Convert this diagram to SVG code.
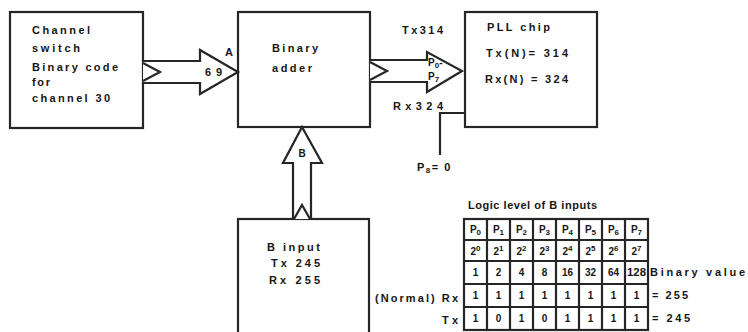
<svg xmlns="http://www.w3.org/2000/svg" width="748" height="332" viewBox="0 0 748 332">
<style>
.t{font-family:"Liberation Sans",Arial,sans-serif;font-weight:bold;font-size:11px;fill:#161616}
.s{font-size:10px}
.c{text-anchor:middle}
.e{text-anchor:end}
.box{fill:#fff;stroke:#262626;stroke-width:2.2}
.ln{fill:none;stroke:#262626;stroke-width:2.2}
.ar{fill:#fff;stroke:#262626;stroke-width:2.2;stroke-linejoin:miter}
.sub{font-size:8px}
</style>
<rect width="748" height="332" fill="#ffffff"/>

<g id="channel-switch">
<rect class="box" x="10" y="12" width="133" height="116"/>
<text class="t" x="32" y="34" textLength="58" lengthAdjust="spacing">Channel</text>
<text class="t" x="32" y="52" textLength="48" lengthAdjust="spacing">switch</text>
<text class="t" x="32" y="71" textLength="86" lengthAdjust="spacing">Binary code</text>
<text class="t" x="32" y="86" textLength="18" lengthAdjust="spacing">for</text>
<text class="t" x="32" y="102" textLength="78" lengthAdjust="spacing">channel 30</text>
</g>

<g id="binary-adder">
<rect class="box" x="238" y="12" width="132" height="115"/>
<text class="t" x="272" y="52" textLength="46" lengthAdjust="spacing">Binary</text>
<text class="t" x="272" y="72" textLength="40" lengthAdjust="spacing">adder</text>
</g>

<g id="pll-chip">
<rect class="box" x="465" y="12" width="132" height="115"/>
<text class="t" x="487" y="31" textLength="63" lengthAdjust="spacing">PLL chip</text>
<text class="t" x="486" y="57" textLength="82" lengthAdjust="spacing">Tx(N)= 314</text>
<text class="t" x="485" y="83" textLength="83" lengthAdjust="spacing">Rx(N) = 324</text>
</g>

<g id="b-input">
<rect class="box" x="238" y="219" width="131" height="125"/>
<text class="t" x="267" y="251" textLength="53" lengthAdjust="spacing">B input</text>
<text class="t" x="271" y="267" textLength="49" lengthAdjust="spacing">Tx 245</text>
<text class="t" x="269" y="284" textLength="51" lengthAdjust="spacing">Rx 255</text>
</g>

<g id="connectors">
<path class="ar" d="M143,61 H200 V50 L238,72 L200,94 V83 H143"/>
<polyline class="ln" points="143,63 160,72 143,81"/>
<text class="t" x="225" y="56">A</text>
<text class="t" x="205" y="76" textLength="17" lengthAdjust="spacing">69</text>

<path class="ar" d="M370,60 H427 V52 L462,71 L427,92 V82 H370"/>
<polyline class="ln" points="370,62 387,71 370,80"/>
<text class="t s" x="428" y="66">P<tspan class="sub" dy="2">0</tspan><tspan dy="-2">-</tspan></text>
<text class="t s" x="428" y="80">P<tspan class="sub" dy="2">7</tspan></text>
<text class="t" x="402" y="34" textLength="41" lengthAdjust="spacing">Tx314</text>
<text class="t" x="393" y="110" textLength="50" lengthAdjust="spacing">Rx324</text>

<path class="ar" d="M293,219 V163 H283 L302,127 L322,163 H311 V219"/>
<polyline class="ln" points="294,219 302,205 310,219"/>
<text class="t s c" x="302" y="157">B</text>

<path class="ln" d="M465,113 H440 V155"/>
<text class="t" x="417" y="171" letter-spacing="1.5">P<tspan class="sub" dy="2">8</tspan><tspan dy="-2">= 0</tspan></text>
</g>

<g id="logic-table">
<text class="t" x="468" y="209" textLength="129" lengthAdjust="spacing">Logic level of B inputs</text>
<g class="ln">
<rect x="464" y="219" width="184" height="111"/>
<path d="M464,240 H648 M464,261 H648 M464,284 H648 M464,307 H648"/>
<path d="M487,219 V330 M510,219 V330 M533,219 V330 M556,219 V330 M579,219 V330 M602,219 V330 M625,219 V330"/>
</g>
<g class="t s c">
<text x="475.5" y="233">P<tspan class="sub" dy="2">0</tspan></text>
<text x="498.5" y="233">P<tspan class="sub" dy="2">1</tspan></text>
<text x="521.5" y="233">P<tspan class="sub" dy="2">2</tspan></text>
<text x="544.5" y="233">P<tspan class="sub" dy="2">3</tspan></text>
<text x="567.5" y="233">P<tspan class="sub" dy="2">4</tspan></text>
<text x="590.5" y="233">P<tspan class="sub" dy="2">5</tspan></text>
<text x="613.5" y="233">P<tspan class="sub" dy="2">6</tspan></text>
<text x="636.5" y="233">P<tspan class="sub" dy="2">7</tspan></text>

<text x="475.5" y="255">2<tspan class="sub" dy="-4">0</tspan></text>
<text x="498.5" y="255">2<tspan class="sub" dy="-4">1</tspan></text>
<text x="521.5" y="255">2<tspan class="sub" dy="-4">2</tspan></text>
<text x="544.5" y="255">2<tspan class="sub" dy="-4">3</tspan></text>
<text x="567.5" y="255">2<tspan class="sub" dy="-4">4</tspan></text>
<text x="590.5" y="255">2<tspan class="sub" dy="-4">5</tspan></text>
<text x="613.5" y="255">2<tspan class="sub" dy="-4">6</tspan></text>
<text x="636.5" y="255">2<tspan class="sub" dy="-4">7</tspan></text>

<text x="475.5" y="276">1</text>
<text x="498.5" y="276">2</text>
<text x="521.5" y="276">4</text>
<text x="544.5" y="276">8</text>
<text x="567.5" y="276">16</text>
<text x="590.5" y="276">32</text>
<text x="613.5" y="276">64</text>
<text x="636.5" y="276" textLength="19" lengthAdjust="spacingAndGlyphs">128</text>

<text x="475.5" y="299">1</text>
<text x="498.5" y="299">1</text>
<text x="521.5" y="299">1</text>
<text x="544.5" y="299">1</text>
<text x="567.5" y="299">1</text>
<text x="590.5" y="299">1</text>
<text x="613.5" y="299">1</text>
<text x="636.5" y="299">1</text>

<text x="475.5" y="322">1</text>
<text x="498.5" y="322">0</text>
<text x="521.5" y="322">1</text>
<text x="544.5" y="322">0</text>
<text x="567.5" y="322">1</text>
<text x="590.5" y="322">1</text>
<text x="613.5" y="322">1</text>
<text x="636.5" y="322">1</text>
</g>
<text class="t" x="650" y="276" textLength="95" lengthAdjust="spacing">Binary value</text>
<text class="t" x="652" y="299" textLength="36" lengthAdjust="spacing">= 255</text>
<text class="t" x="652" y="322" textLength="38" lengthAdjust="spacing">= 245</text>
<text class="t e" x="458" y="302" textLength="83" lengthAdjust="spacing">(Normal) Rx</text>
<text class="t e" x="458" y="324" textLength="16" lengthAdjust="spacing">Tx</text>
</g>
</svg>
